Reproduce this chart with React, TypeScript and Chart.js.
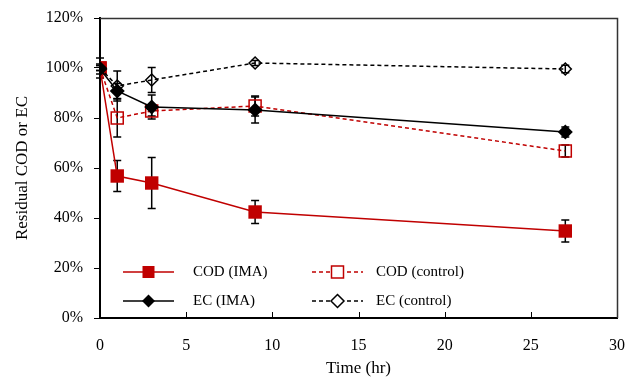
import React, { useEffect, useRef } from "react";
import { Chart, registerables } from "chart.js";

Chart.register(...registerables);

const times = [0, 1, 3, 9, 27];
const codIma = [100, 56.8, 54, 42.4, 34.8];
const codImaErr = [4, 6.2, 10.2, 4.6, 4.4];
const codCtrl = [100, 80, 82.8, 84.8, 66.8];
const codCtrlErr = [1, 7.6, 2, 4, 2.4];
const ecIma = [99.6, 90.8, 84.4, 83.2, 74.4];
const ecImaErr = [2, 3, 4.8, 5.2, 2];
const ecCtrl = [100, 92.8, 95.2, 102, 99.6];
const ecCtrlErr = [1, 6, 5, 1, 1.5];

const xTicks = [0, 5, 10, 15, 20, 25, 30];
const yTicks = [0, 20, 40, 60, 80, 100, 120];

const RED = "#C00000";
const FONT = "'Liberation Serif', 'Times New Roman', serif";

const seriesNames = ["COD (IMA)", "COD (control)", "EC (IMA)", "EC (control)"];
const errs = [codImaErr, codCtrlErr, ecImaErr, ecCtrlErr];

function pts(vals: number[]) {
  return times.map((t, i) => ({ x: t, y: vals[i] }));
}

function drawMarker(ctx: CanvasRenderingContext2D, kind: string, x: number, y: number, s: number) {
  ctx.save();
  ctx.setLineDash([]);
  if (kind === "sqFill") {
    ctx.fillStyle = RED;
    ctx.fillRect(x - s / 2, y - s / 2, s, s);
  } else if (kind === "sqHollow") {
    ctx.strokeStyle = RED;
    ctx.lineWidth = 1.5;
    ctx.fillStyle = "#fff";
    ctx.fillRect(x - s / 2, y - s / 2, s, s);
    ctx.strokeRect(x - s / 2, y - s / 2, s, s);
  } else {
    ctx.beginPath();
    ctx.moveTo(x, y - s / 2);
    ctx.lineTo(x + s / 2, y);
    ctx.lineTo(x, y + s / 2);
    ctx.lineTo(x - s / 2, y);
    ctx.closePath();
    if (kind === "diaFill") {
      ctx.fillStyle = "#000";
      ctx.fill();
    } else {
      ctx.fillStyle = "#fff";
      ctx.fill();
      ctx.strokeStyle = "#000";
      ctx.lineWidth = 1.5;
      ctx.stroke();
    }
  }
  ctx.restore();
}

const decorPlugin = {
  id: "decor",
  beforeDatasetsDraw(chart: any) {
    const ctx = chart.ctx as CanvasRenderingContext2D;
    const xs = chart.scales.x;
    const ys = chart.scales.y;
    ctx.save();
    ctx.strokeStyle = "#000";
    ctx.lineWidth = 1.5;
    ctx.setLineDash([]);
    errs.forEach((arr, di) => {
      const data = chart.data.datasets[di].data;
      data.forEach((p: any, i: number) => {
        const px = xs.getPixelForValue(p.x);
        const top = ys.getPixelForValue(p.y + arr[i]);
        const bot = ys.getPixelForValue(p.y - arr[i]);
        ctx.beginPath();
        ctx.moveTo(px, top);
        ctx.lineTo(px, bot);
        ctx.moveTo(px - 4, top);
        ctx.lineTo(px + 4, top);
        ctx.moveTo(px - 4, bot);
        ctx.lineTo(px + 4, bot);
        ctx.stroke();
      });
    });
    ctx.restore();
  },
  afterDraw(chart: any) {
    const ctx = chart.ctx as CanvasRenderingContext2D;
    const a = chart.chartArea;
    const xs = chart.scales.x;
    ctx.save();
    // frame top/right
    ctx.strokeStyle = "#333";
    ctx.lineWidth = 1.5;
    ctx.beginPath();
    ctx.moveTo(a.left, a.top + 0.5);
    ctx.lineTo(a.right + 0.5, a.top + 0.5);
    ctx.lineTo(a.right + 0.5, a.bottom);
    ctx.stroke();
    // inside x ticks
    ctx.strokeStyle = "#000";
    ctx.lineWidth = 1;
    xTicks.slice(1, -1).forEach((t) => {
      const px = Math.round(xs.getPixelForValue(t)) + 0.5;
      ctx.beginPath();
      ctx.moveTo(px, a.bottom);
      ctx.lineTo(px, a.bottom - 6);
      ctx.stroke();
    });
    // legend
    const kinds = ["sqFill", "sqHollow", "diaFill", "diaHollow"];
    const colors = [RED, RED, "#000", "#000"];
    const dashed = [false, true, false, true];
    const cols = [{ x0: 123, x1: 174, tx: 193 }, { x0: 312, x1: 363, tx: 376 }];
    const rows = [272, 301];
    ctx.font = `15px ${FONT}`;
    ctx.textBaseline = "middle";
    ctx.textAlign = "left";
    for (let i = 0; i < 4; i++) {
      const c = cols[i % 2];
      const y = rows[Math.floor(i / 2)];
      ctx.strokeStyle = colors[i];
      ctx.lineWidth = 1.5;
      ctx.setLineDash(dashed[i] ? [4, 3] : []);
      ctx.beginPath();
      ctx.moveTo(c.x0, y);
      ctx.lineTo(c.x1, y);
      ctx.stroke();
      const mx = (c.x0 + c.x1) / 2;
      drawMarker(ctx, kinds[i], mx, y, kinds[i].startsWith("sq") ? 12 : 13);
      ctx.fillStyle = "#000";
      ctx.fillText(seriesNames[i], c.tx, y);
    }
    ctx.restore();
  },
};

export default function App() {
  const ref = useRef<HTMLCanvasElement | null>(null);
  useEffect(() => {
    if (!ref.current) return;
    const chart = new Chart(ref.current, {
      type: "scatter",
      data: {
        datasets: [
          {
            label: seriesNames[0],
            data: pts(codIma),
            showLine: true,
            borderColor: RED,
            borderWidth: 1.5,
            pointStyle: "rect",
            pointRadius: 9.5,
            pointBackgroundColor: RED,
            pointBorderColor: RED,
            pointBorderWidth: 0,
            order: 3,
          },
          {
            label: seriesNames[1],
            data: pts(codCtrl),
            showLine: true,
            borderColor: RED,
            borderWidth: 1.5,
            borderDash: [4, 3],
            pointStyle: "rect",
            pointRadius: 8.5,
            pointBackgroundColor: "rgba(255,255,255,0)",
            pointBorderColor: RED,
            pointBorderWidth: 1.5,
            order: 2,
          },
          {
            label: seriesNames[2],
            data: pts(ecIma),
            showLine: true,
            borderColor: "#000",
            borderWidth: 1.5,
            pointStyle: "rectRot",
            pointRadius: 7.5,
            pointBackgroundColor: "#000",
            pointBorderColor: "#000",
            pointBorderWidth: 0,
            order: 0,
          },
          {
            label: seriesNames[3],
            data: pts(ecCtrl),
            showLine: true,
            borderColor: "#000",
            borderWidth: 1.5,
            borderDash: [4, 3],
            pointStyle: "rectRot",
            pointRadius: 6,
            pointBackgroundColor: "rgba(255,255,255,0)",
            pointBorderColor: "#000",
            pointBorderWidth: 1.5,
            order: 1,
          },
        ],
      },
      options: {
        animation: false,
        responsive: true,
        maintainAspectRatio: false,
        layout: { padding: { top: 18, right: 14, left: 0, bottom: 0 } },
        plugins: { legend: { display: false }, tooltip: { enabled: false } },
        scales: {
          x: {
            type: "linear",
            min: 0,
            max: 30,
            afterBuildTicks: (s: any) => {
              s.ticks = xTicks.map((v) => ({ value: v }));
            },
            ticks: { color: "#000", font: { family: FONT, size: 16 }, padding: 10 },
            grid: { display: false },
            border: { display: true, color: "#000", width: 2 },
            title: {
              display: true,
              text: "Time (hr)",
              color: "#000",
              font: { family: FONT, size: 17 },
              padding: { top: 0, bottom: 1 },
            },
            afterFit: (s: any) => {
              s.height = 62;
              s.paddingLeft = 0;
              s.paddingRight = 0;
            },
          },
          y: {
            type: "linear",
            min: 0,
            max: 120,
            afterBuildTicks: (s: any) => {
              s.ticks = yTicks.map((v) => ({ value: v }));
            },
            ticks: {
              color: "#000",
              font: { family: FONT, size: 16 },
              padding: 11,
              callback: (v: any) => `${v}%`,
            },
            grid: {
              display: true,
              drawOnChartArea: false,
              drawTicks: true,
              tickLength: 6,
              color: "#000",
              lineWidth: 1,
            },
            border: { display: true, color: "#000", width: 2 },
            title: {
              display: true,
              text: "Residual COD or EC",
              color: "#000",
              font: { family: FONT, size: 17 },
              padding: { top: 12, bottom: 0 },
            },
            afterFit: (s: any) => {
              s.width = 100;
              s.paddingTop = 0;
              s.paddingBottom = 0;
            },
          },
        },
      },
      plugins: [decorPlugin],
    });
    return () => chart.destroy();
  }, []);
  return (
    <div style={{ position: "fixed", left: 0, top: 0, width: 631, height: 380, background: "#fff" }}>
      <canvas ref={ref} />
    </div>
  );
}
